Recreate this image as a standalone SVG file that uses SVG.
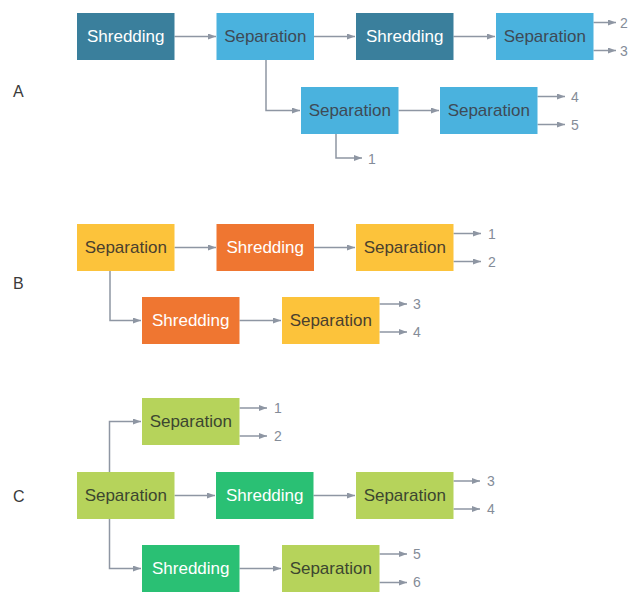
<svg xmlns="http://www.w3.org/2000/svg" width="630" height="592" viewBox="0 0 630 592">
<defs>
<marker id="ah" markerUnits="userSpaceOnUse" markerWidth="9" markerHeight="7" refX="8" refY="3" orient="auto"><path d="M0,0 L8,3 L0,6 z" fill="#8e96a3"/></marker>
</defs>
<style>
text{font-family:"Liberation Sans",Arial,sans-serif}
.bt{font-size:17px;text-anchor:middle;dominant-baseline:central}
.dk{fill:#3e4a56}
.yk{fill:#4a3f2e}
.gk{fill:#3c4630}
.wt{fill:#ffffff}
.num{font-size:14px;fill:#848c98;dominant-baseline:central}
.sec{font-size:16px;fill:#3a3a3a;dominant-baseline:central}
.c{fill:none;stroke:#8e96a3;stroke-width:1.5;marker-end:url(#ah)}
.a1{fill:#3a7f9c}.a2{fill:#4ab2de}
.b1{fill:#fcc33b}.b2{fill:#ef7631}
.c1{fill:#b6d35b}.c2{fill:#2ac074}
</style>
<rect width="630" height="592" fill="#ffffff"/>
<text class="sec" x="13" y="91">A</text>
<text class="sec" x="13" y="283">B</text>
<text class="sec" x="13" y="496">C</text>

<g id="connectors">
<path class="c" d="M174.5,36.5 H216"/>
<path class="c" d="M314,36.5 H355"/>
<path class="c" d="M453.5,36.5 H495"/>
<path class="c" d="M593.5,22.5 H616"/>
<path class="c" d="M593.5,50.5 H616"/>
<path class="c" d="M266,60 V110.5 H300"/>
<path class="c" d="M398.5,110.5 H439"/>
<path class="c" d="M537.5,96.5 H565"/>
<path class="c" d="M537.5,124.5 H565"/>
<path class="c" d="M336,134 V158 H362"/>

<path class="c" d="M174.5,247.5 H216"/>
<path class="c" d="M314,247.5 H355"/>
<path class="c" d="M453.5,233.5 H481"/>
<path class="c" d="M453.5,261.5 H481"/>
<path class="c" d="M110,271 V320.5 H141"/>
<path class="c" d="M239.5,320.5 H281"/>
<path class="c" d="M379.5,304 H407"/>
<path class="c" d="M379.5,332 H407"/>

<path class="c" d="M109.5,472 V421.5 H141"/>
<path class="c" d="M239.5,408 H267"/>
<path class="c" d="M239.5,436 H267"/>
<path class="c" d="M174.5,495.5 H215"/>
<path class="c" d="M313.5,495.5 H355"/>
<path class="c" d="M453.5,481 H480"/>
<path class="c" d="M453.5,509 H480"/>
<path class="c" d="M109.5,519 V568.5 H141"/>
<path class="c" d="M239.5,568.5 H281"/>
<path class="c" d="M379.5,554 H407"/>
<path class="c" d="M379.5,582.5 H407"/>
</g>

<g id="labels">
<text class="num" x="620" y="23">2</text>
<text class="num" x="620" y="51">3</text>
<text class="num" x="571" y="97">4</text>
<text class="num" x="571" y="125">5</text>
<text class="num" x="368" y="159">1</text>
<text class="num" x="488" y="234">1</text>
<text class="num" x="488" y="262">2</text>
<text class="num" x="413" y="304">3</text>
<text class="num" x="413" y="332">4</text>
<text class="num" x="274" y="408">1</text>
<text class="num" x="274" y="436">2</text>
<text class="num" x="487" y="481">3</text>
<text class="num" x="487" y="509">4</text>
<text class="num" x="413" y="554">5</text>
<text class="num" x="413" y="582">6</text>
</g>

<g id="A1"><rect class="a1" x="77" y="13" width="97.5" height="47"/><text class="bt wt" x="125.75" y="36.5">Shredding</text></g>
<g id="A2"><rect class="a2" x="216.5" y="13" width="97.5" height="47"/><text class="bt dk" x="265.25" y="36.5">Separation</text></g>
<g id="A3"><rect class="a1" x="356" y="13" width="97.5" height="47"/><text class="bt wt" x="404.75" y="36.5">Shredding</text></g>
<g id="A4"><rect class="a2" x="496" y="13" width="97.5" height="47"/><text class="bt dk" x="544.75" y="36.5">Separation</text></g>
<g id="A5"><rect class="a2" x="301" y="87" width="97.5" height="47"/><text class="bt dk" x="349.75" y="110.5">Separation</text></g>
<g id="A6"><rect class="a2" x="440" y="87" width="97.5" height="47"/><text class="bt dk" x="488.75" y="110.5">Separation</text></g>

<g id="B1"><rect class="b1" x="77" y="224" width="97.5" height="47"/><text class="bt yk" x="125.75" y="247.5">Separation</text></g>
<g id="B2"><rect class="b2" x="216.5" y="224" width="97.5" height="47"/><text class="bt wt" x="265.25" y="247.5">Shredding</text></g>
<g id="B3"><rect class="b1" x="356" y="224" width="97.5" height="47"/><text class="bt yk" x="404.75" y="247.5">Separation</text></g>
<g id="B4"><rect class="b2" x="142" y="297" width="97.5" height="47"/><text class="bt wt" x="190.75" y="320.5">Shredding</text></g>
<g id="B5"><rect class="b1" x="282" y="297" width="97.5" height="47"/><text class="bt yk" x="330.75" y="320.5">Separation</text></g>

<g id="C1"><rect class="c1" x="142" y="398" width="97.5" height="47"/><text class="bt gk" x="190.75" y="421.5">Separation</text></g>
<g id="C2"><rect class="c1" x="77" y="472" width="97.5" height="47"/><text class="bt gk" x="125.75" y="495.5">Separation</text></g>
<g id="C3"><rect class="c2" x="216" y="472" width="97.5" height="47"/><text class="bt wt" x="264.75" y="495.5">Shredding</text></g>
<g id="C4"><rect class="c1" x="356" y="472" width="97.5" height="47"/><text class="bt gk" x="404.75" y="495.5">Separation</text></g>
<g id="C5"><rect class="c2" x="142" y="545" width="97.5" height="47"/><text class="bt wt" x="190.75" y="568.5">Shredding</text></g>
<g id="C6"><rect class="c1" x="282" y="545" width="97.5" height="47"/><text class="bt gk" x="330.75" y="568.5">Separation</text></g>
</svg>
